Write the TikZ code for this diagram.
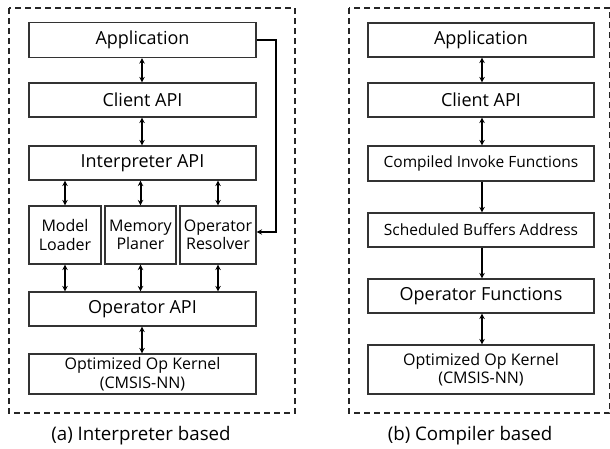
\documentclass[tikz,border=0pt]{standalone}
\usepackage{fontspec}
\setmainfont{Open Sans}
\usetikzlibrary{arrows.meta}
\begin{document}
\begin{tikzpicture}[x=1pt,y=-1pt,
  blk/.style={draw=black!80,line width=1.1pt,inner sep=0pt},
  frame/.style={draw=black!85,line width=1.6pt,dash pattern=on 6pt off 4pt},
  link/.style={line width=2pt,{Stealth[length=5.5pt,width=5.5pt]}-{Stealth[length=5.5pt,width=5.5pt]}},
  down/.style={line width=2pt,-{Stealth[length=5.5pt,width=5.5pt]}},
  big/.style={font=\fontsize{18}{20}\selectfont},
  mid/.style={font=\fontsize{15.5}{18}\selectfont},
  small/.style={font=\fontsize{16}{18.5}\selectfont,align=center},
  captext/.style={font=\fontsize{18.7}{22}\selectfont}]
\useasboundingbox (0,0) rectangle (610,449);

% ---------- (a) interpreter based ----------
\draw[frame] (9,8) rectangle (295,413);
\node[blk,big,minimum width=227pt,minimum height=35pt] (appA) at (142.5,40) {Application};
\node[blk,big,minimum width=227pt,minimum height=34pt] (cliA) at (142.5,100) {Client API};
\node[blk,big,minimum width=227pt,minimum height=34pt] (intA) at (142.5,163) {Interpreter API};
\node[blk,small,minimum width=72pt,minimum height=58pt] (model) at (65,235) {Model\\Loader};
\node[blk,small,minimum width=71pt,minimum height=58pt] (mem) at (140.5,235) {Memory\\Planer};
\node[blk,small,minimum width=76pt,minimum height=58pt] (res) at (218,235) {Operator\\Resolver};
\node[blk,big,minimum width=227pt,minimum height=34pt] (opA) at (142.5,309) {Operator API};
\node[blk,small,minimum width=227pt,minimum height=40pt] (kerA) at (142.5,374) {Optimized Op Kernel\\(CMSIS-NN)};

\draw[link] (appA.south -| 142,0) -- (cliA.north -| 142,0);
\draw[link] (cliA.south -| 142,0) -- (intA.north -| 142,0);
\draw[link] (intA.south -| model) -- (model.north);
\draw[link] (intA.south -| mem) -- (mem.north);
\draw[link] (intA.south -| res) -- (res.north);
\draw[link] (model.south) -- (opA.north -| model);
\draw[link] (mem.south) -- (opA.north -| mem);
\draw[link] (res.south) -- (opA.north -| res);
\draw[link] (opA.south -| 142,0) -- (kerA.north -| 142,0);
\coordinate (bend) at (276,40);
\draw[down,line width=1.5pt] (appA.east) -- (bend) -- (bend |- 0,232) -- (res.east |- 0,232);

\node[captext] (capA) at (141,436) {(a) Interpreter based};

% ---------- (b) compiler based ----------
\draw[frame] (349,8) rectangle (609.5,413);
\node[blk,big,minimum width=226pt,minimum height=34pt] (appB) at (481,40) {Application};
\node[blk,big,minimum width=226pt,minimum height=34pt] (cliB) at (481,100) {Client API};
\node[blk,mid,minimum width=226pt,minimum height=35pt] (inv) at (481,163.5) {Compiled Invoke Functions};
\node[blk,mid,minimum width=226pt,minimum height=34pt] (buf) at (481,230) {Scheduled Buffers Address};
\node[blk,big,minimum width=226pt,minimum height=34pt] (opB) at (481,296) {Operator Functions};
\node[blk,small,minimum width=226pt,minimum height=49pt] (kerB) at (481,369.5) {Optimized Op Kernel\\(CMSIS-NN)};

\draw[link] (appB.south -| 482,0) -- (cliB.north -| 482,0);
\draw[link] (cliB.south -| 482,0) -- (inv.north -| 482,0);
\draw[down] (inv.south -| 482,0) -- (buf.north -| 482,0);
\draw[down] (buf.south -| 482,0) -- (opB.north -| 482,0);
\draw[link] (opB.south -| 482,0) -- (kerB.north -| 482,0);

\node[captext] (capB) at (470,436) {(b) Compiler based};
\end{tikzpicture}
\end{document}
